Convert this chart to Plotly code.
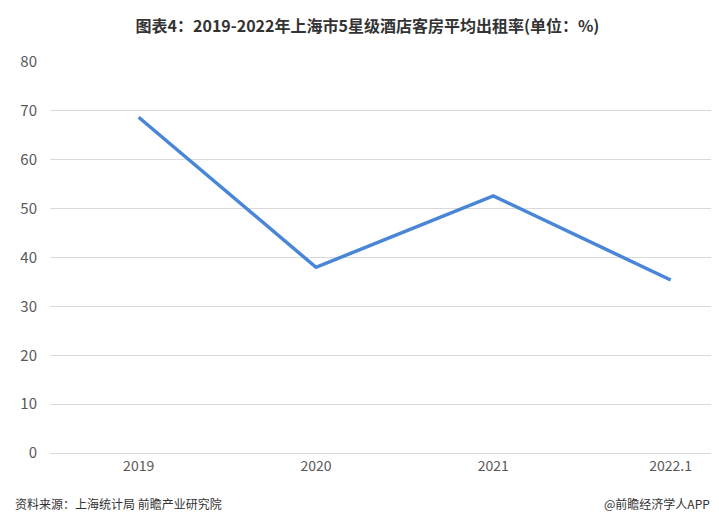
import plotly.graph_objects as go

# Data
years = ['2019', '2020', '2021', '2022.1']
occupancy = [68.7, 38.0, 52.6, 35.4]

fig = go.Figure()

fig.add_trace(go.Scatter(
    x=list(range(len(years))),
    y=occupancy,
    mode='lines',
    line=dict(color='#4a86d8', width=3.5),
    showlegend=False,
))

fig.update_layout(
    width=719,
    height=527,
    plot_bgcolor='white',
    paper_bgcolor='white',
    font=dict(family='Noto Sans CJK SC', color='#595959'),
    title=dict(
        text='<b>图表4：2019-2022年上海市5星级酒店客房平均出租率(单位：%)</b>',
        x=0.5, xanchor='center', y=0.975,
        font=dict(size=16, color='#333333'),
    ),
    margin=dict(l=37, r=12, t=54, b=82),
    xaxis=dict(
        tickmode='array',
        tickvals=list(range(len(years))),
        ticktext=years,
        range=[-0.5, 3.25],
        showgrid=False,
        zeroline=False,
        showline=True,
        linecolor='#d9d9d9',
        tickfont=dict(size=14, color='#595959'),
    ),
    yaxis=dict(
        range=[0, 80],
        dtick=10,
        showgrid=True,
        gridcolor='#d9d9d9',
        zeroline=False,
        tickfont=dict(size=15, color='#595959'),
        ticklabelstandoff=12,
    ),
    annotations=[
        dict(text='资料来源：上海统计局 前瞻产业研究院', xref='paper', yref='paper',
             x=-0.055, y=-0.13, xanchor='left', yanchor='middle', showarrow=False,
             font=dict(size=12, color='#333333')),
        dict(text='@前瞻经济学人APP', xref='paper', yref='paper',
             x=0.995, y=-0.13, xanchor='right', yanchor='middle', showarrow=False,
             font=dict(size=12, color='#333333')),
    ],
)

fig.write_html('out.html')
